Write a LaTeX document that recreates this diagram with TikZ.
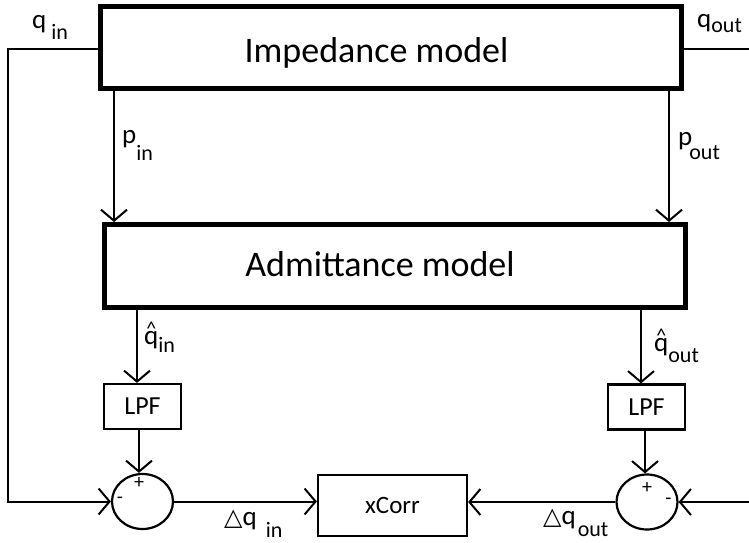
\documentclass[tikz,border=0pt]{standalone}
\usepackage{fontspec}
\setmainfont{Carlito}
\newfontfamily\symfont{DejaVu Sans}
\usetikzlibrary{arrows.meta,shapes.geometric}
\newcommand{\varsize}{\fontsize{27}{27}\selectfont}
\newcommand{\lowsub}[2][6pt]{\raisebox{-#1}{\fontsize{22}{22}\selectfont #2}}
\newcommand{\hatq}{\ooalign{q\cr\hidewidth\raisebox{9pt}{\fontsize{20}{20}\selectfont\char"5E}\hidewidth\cr}}
\newcommand{\dtri}{{\symfont\fontsize{24}{24}\selectfont\char"25B3}}
\tikzset{
  bigbox/.style={draw,line width=5pt,inner sep=0pt},
  smallbox/.style={draw,line width=2.2pt,inner sep=0pt,font=\fontsize{26}{26}\selectfont},
  sumnode/.style={draw,ellipse,line width=2.2pt,inner sep=0pt,minimum width=61pt,minimum height=55pt},
  boxtext/.style={anchor=base,inner sep=0pt,font=\fontsize{36}{36}\selectfont},
  varlabel/.style={anchor=base west,inner sep=0pt,font=\varsize},
  signlabel/.style={inner sep=0pt,font=\fontsize{20}{20}\selectfont},
  link/.style={line width=2pt},
  flow/.style={link,-{Straight Barb[length=11pt,width=26pt,line width=2pt]}}
}

\begin{document}
\begin{tikzpicture}[x=1pt,y=-1pt]
\path[use as bounding box,fill=white] (0,0) rectangle (749,543);

\node[bigbox,minimum width=581pt,minimum height=81.5pt] (imp) at (390.5,47.25) {};
\node[boxtext] (imptext) at (376.5,63) {Impedance model};
\node[bigbox,minimum width=581pt,minimum height=83pt] (adm) at (395,266) {};
\node[boxtext] (admtext) at (380,276) {Admittance model};
\node[smallbox,minimum width=77pt,minimum height=45pt] (lpfin) at (142.5,406.5) {LPF};
\node[smallbox,minimum width=77pt,minimum height=45pt] (lpfout) at (646.5,407) {LPF};
\node[sumnode] (sumin) at (142.5,501.5) {};
\node[sumnode] (sumout) at (647,502) {};
\node[smallbox,minimum width=149pt,minimum height=61pt,font=\fontsize{25}{25}\selectfont] (xcorr) at (392.5,505.5) {xCorr};

\node[signlabel] (plusin) at (139,483) {+};
\node[signlabel] (minusin) at (120,500.5) {-};
\node[signlabel] (plusout) at (647,488) {+};
\node[signlabel] (minusout) at (668.5,501.5) {-};

\coordinate (railin) at (8,49);
\coordinate (qoutend) at (749,49);
\coordinate (railout) at (749,502);
\coordinate (pinx) at (114,0);
\coordinate (poutx) at (669,0);
\coordinate (hatinx) at (137,0);
\coordinate (dqinx) at (139,0);
\coordinate (hatoutx) at (641,0);
\coordinate (dqoutx) at (645,0);

\draw[flow] (imp.west |- railin) -- (railin) |- (sumin.west);
\draw[link] (imp.east |- qoutend) -- (qoutend);
\draw[flow] (imp.south -| pinx) -- (adm.north -| pinx);
\draw[flow] (imp.south -| poutx) -- (adm.north -| poutx);
\draw[flow] (adm.south -| hatinx) -- (lpfin.north -| hatinx);
\draw[flow] (adm.south -| hatoutx) -- (lpfout.north -| hatoutx);
\draw[flow] (lpfin.south -| dqinx) -- (sumin.north -| dqinx);
\draw[flow] (lpfout.south -| dqoutx) -- (sumout.north -| dqoutx);
\draw[flow] (sumin.east) -- (sumin.east -| xcorr.west);
\draw[flow] (sumout.west) -- (sumout.west -| xcorr.east);
\draw[flow] (railout |- sumout.east) -- (sumout.east);

\node[varlabel] (qin) at (32,29) {q\hspace{5pt}\lowsub[11pt]{in}};
\node[varlabel] (qout) at (697,28) {q\lowsub[5pt]{out}};
\node[varlabel] (pin) at (122,143) {p\lowsub[17pt]{in}};
\node[varlabel] (pout) at (678,145) {p\hspace{-3pt}\lowsub[14pt]{out}};
\node[varlabel] (qhatin) at (144,344) {\hatq\lowsub[8pt]{in}};
\node[varlabel] (qhatout) at (654,351) {\hatq\lowsub[11pt]{out}};
\node[varlabel] (dqin) at (224,525) {\dtri q\hspace{9pt}\lowsub[12pt]{in}};
\node[varlabel] (dqout) at (543,524) {\dtri q\hspace{2pt}\lowsub[12pt]{out}};
\end{tikzpicture}
\end{document}
